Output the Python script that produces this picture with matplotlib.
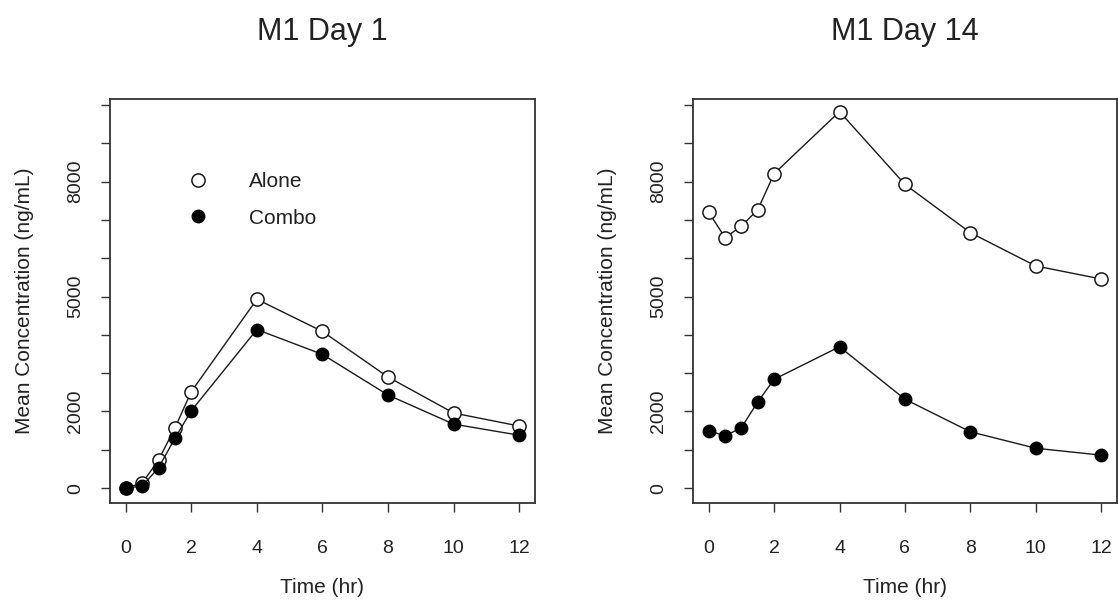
import numpy as np
import matplotlib
matplotlib.use("Agg")
import matplotlib.pyplot as plt
from matplotlib.lines import Line2D

plt.rcParams['font.family'] = ['Liberation Sans', 'DejaVu Sans']

# sampling times (hr)
time_hr = [0, 0.5, 1, 1.5, 2, 4, 6, 8, 10, 12]

# Day 1 mean concentrations (ng/mL)
day1_alone = [0, 130, 730, 1570, 2520, 4930, 4090, 2900, 1960, 1620]
day1_combo = [0, 50, 530, 1300, 2020, 4140, 3490, 2430, 1670, 1380]

# Day 14 mean concentrations (ng/mL)
day14_alone = [7200, 6540, 6840, 7270, 8210, 9830, 7930, 6670, 5800, 5460]
day14_combo = [1500, 1360, 1580, 2250, 2840, 3690, 2320, 1470, 1040, 860]

titles = ["M1 Day 1", "M1 Day 14"]
x_ticks = [0, 2, 4, 6, 8, 10, 12]
y_ticks = list(range(0, 10001, 1000))
y_labelled = [0, 2000, 5000, 8000]

txt = '#222222'
fig = plt.figure(figsize=(11.18, 6.08), dpi=100)
ax1 = fig.add_axes([0.0984, 0.1727, 0.380, 0.6645])
ax2 = fig.add_axes([0.6199, 0.1727, 0.379, 0.6645])

panels = [(ax1, day1_alone, day1_combo, titles[0]),
          (ax2, day14_alone, day14_combo, titles[1])]

for ax, alone, combo, title in panels:
    ax.plot(time_hr, alone, color='#1a1a1a', lw=1.0, marker='o', ms=9.5,
            mfc='white', mec='#1a1a1a', mew=1.1, zorder=3)
    ax.plot(time_hr, combo, color='#1a1a1a', lw=1.0, marker='o', ms=9,
            mfc='black', mec='black', zorder=3)
    ax.set_xlim(-0.48, 12.48)
    ax.set_ylim(-390, 10160)
    ax.set_xticks(x_ticks)
    ax.set_xticklabels([str(t) for t in x_ticks])
    ax.set_yticks(y_ticks)
    ax.set_yticklabels([str(v) if v in y_labelled else '' for v in y_ticks],
                       rotation=90, va='center')
    ax.tick_params(axis='both', direction='out', length=6.5, width=1.0,
                   labelsize=14, labelcolor=txt, colors='#333333')
    ax.tick_params(axis='x', pad=20)
    ax.tick_params(axis='y', pad=12)
    for s in ax.spines.values():
        s.set_linewidth(1.3)
        s.set_color('#333333')
    ax.set_xlabel('Time (hr)', fontsize=15, color=txt, labelpad=15)
    ax.set_ylabel('Mean Concentration (ng/mL)', fontsize=15, color=txt,
                  labelpad=24)
    fig.text(ax.get_position().x0 + ax.get_position().width / 2, 0.948,
             title, fontsize=22, color=txt, ha='center', va='center')

handles = [Line2D([], [], ls='none', marker='o', ms=9.5, mfc='white',
                  mec='#1a1a1a', mew=1.1),
           Line2D([], [], ls='none', marker='o', ms=9, mfc='black',
                  mec='black')]
leg = ax1.legend(handles, ['Alone', 'Combo'], loc='upper left',
                 bbox_to_anchor=(0.133, 0.845), frameon=False, fontsize=15,
                 handletextpad=1.45, labelspacing=0.85, borderpad=0)
for t in leg.get_texts():
    t.set_color(txt)

fig.savefig('out.png', dpi=100)
